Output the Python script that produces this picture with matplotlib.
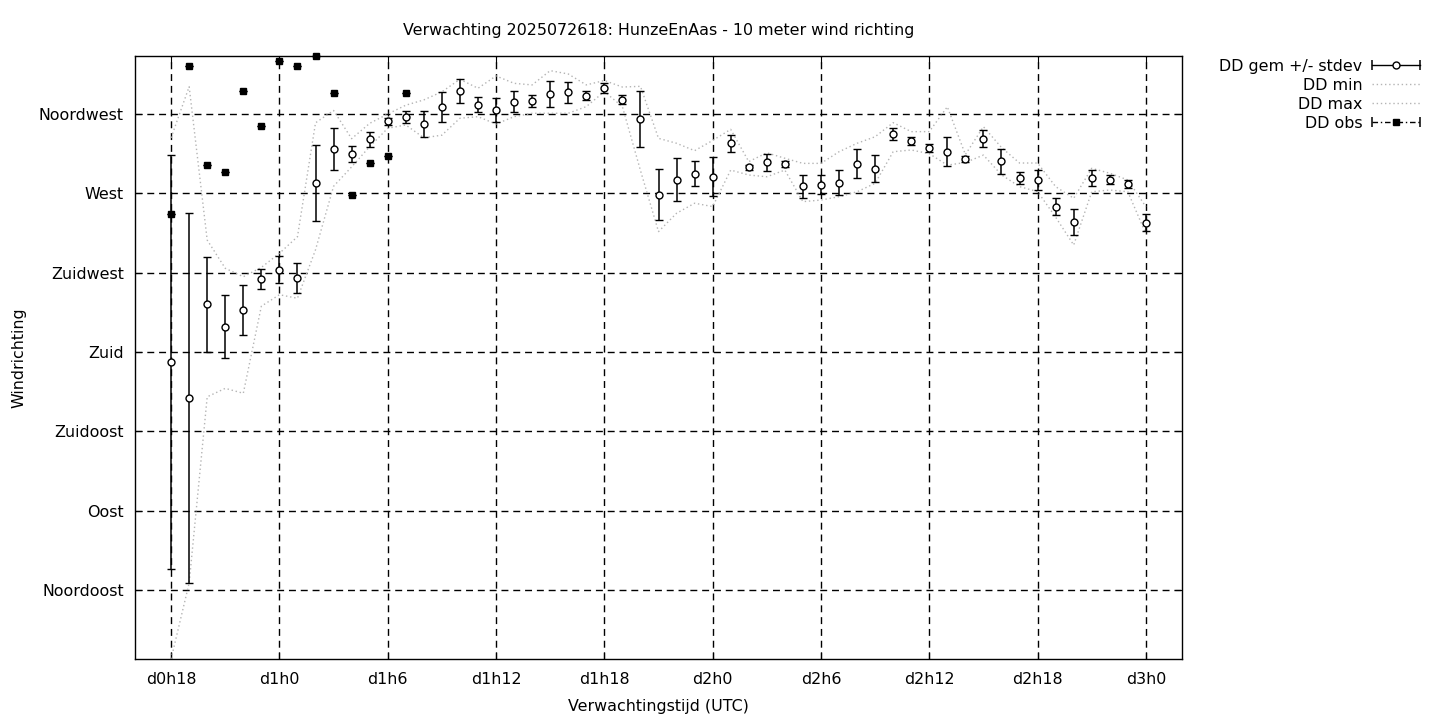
import matplotlib
matplotlib.use("Agg")
import matplotlib.pyplot as plt
from matplotlib.lines import Line2D
from matplotlib.legend_handler import HandlerLine2D, HandlerTuple

# forecast hours since d0h0
hours = list(range(18, 73))

dd_mean = [174.2, 153.8, 207.0, 194.3, 203.8, 221.6, 226.8, 221.8, 275.9, 295.0,
           292.2, 300.6, 310.9, 313.2, 309.4, 318.9, 327.8, 320.3, 317.1, 322.0,
           322.4, 326.4, 327.2, 325.4, 329.8, 323.1, 312.0, 269.3, 277.6, 281.2,
           279.5, 298.4, 284.8, 287.7, 286.6, 273.9, 274.9, 275.9, 286.8, 283.9,
           303.6, 299.7, 295.6, 293.6, 289.7, 300.9, 288.1, 278.7, 277.5, 262.4,
           253.8, 278.5, 277.8, 275.2, 253.4]
dd_std = [117.4, 104.9, 27.1, 17.9, 14.4, 5.6, 7.9, 8.5, 21.7, 11.8,
          4.4, 4.1, 2.1, 3.4, 7.3, 8.6, 6.8, 4.3, 6.8, 6.0,
          3.6, 7.6, 6.2, 2.7, 2.8, 2.6, 15.9, 14.5, 12.2, 7.3,
          11.0, 4.9, 1.5, 4.8, 1.6, 6.7, 5.4, 7.1, 8.2, 7.6,
          3.2, 2.4, 2.2, 8.3, 1.7, 4.8, 7.1, 3.4, 5.8, 4.8,
          7.4, 4.5, 2.5, 2.3, 4.9]
dd_min = [5.9, 49.0, 154.6, 159.4, 156.6, 206.0, 212.5, 210.5, 238.0, 274.0,
          285.0, 296.5, 306.9, 308.8, 301.5, 303.0, 312.6, 313.5, 309.3, 313.5,
          315.4, 315.4, 315.4, 319.2, 327.7, 319.2, 283.0, 248.3, 258.7, 264.4,
          262.5, 283.2, 280.4, 279.4, 283.2, 265.3, 266.2, 268.1, 270.9, 275.7,
          293.6, 294.6, 292.5, 286.0, 287.5, 291.7, 280.5, 273.8, 271.0, 256.5,
          240.7, 270.9, 271.9, 270.9, 247.0]
dd_max = [301.5, 330.5, 243.5, 227.5, 222.7, 228.0, 236.0, 245.4, 310.0, 317.0,
          301.0, 309.7, 315.0, 320.0, 323.0, 327.6, 334.7, 329.6, 336.6, 332.4,
          331.5, 339.6, 337.7, 331.5, 334.0, 330.3, 330.7, 301.2, 298.4, 294.2,
          300.0, 306.3, 288.0, 293.0, 289.9, 287.0, 287.0, 293.6, 298.4, 302.1,
          310.1, 305.0, 305.0, 319.1, 292.0, 307.8, 296.0, 287.2, 287.2, 273.8,
          267.2, 284.2, 281.4, 277.6, 262.4]

obs_hours = list(range(18, 32))
dd_obs = [258.3, 342.1, 285.9, 281.9, 327.9, 308.0, 344.9, 342.1, 347.7, 326.7,
          268.9, 287.0, 291.0, 326.7]

xtick_pos = [18, 24, 30, 36, 42, 48, 54, 60, 66, 72]
xtick_lab = ["d0h18", "d1h0", "d1h6", "d1h12", "d1h18", "d2h0", "d2h6", "d2h12", "d2h18", "d3h0"]
ytick_pos = [45, 90, 135, 180, 225, 270, 315]
ytick_lab = ["Noordoost", "Oost", "Zuidoost", "Zuid", "Zuidwest", "West", "Noordwest"]

plt.rcParams['font.family'] = 'DejaVu Sans'
fs = 11.4

fig = plt.figure(figsize=(14.4, 7.2), dpi=100)
ax = fig.add_axes([135 / 1440, 1 - 659 / 720, (1182 - 135) / 1440, (659 - 56) / 720])

ax.plot(hours, dd_min, color='#b4b4b4', lw=1.0, linestyle=(0, (1, 2)), zorder=2)
ax.plot(hours, dd_max, color='#b4b4b4', lw=1.0, linestyle=(0, (1, 2)), zorder=2)
ax.errorbar(hours, dd_mean, yerr=dd_std, fmt='o', color='black', mfc='white', mec='black',
            ms=5, mew=1.0, elinewidth=1.1, capsize=3.2, capthick=1.1, zorder=3)
ax.errorbar(obs_hours, dd_obs, yerr=0, fmt='s', color='black', ms=5,
            elinewidth=1.0, capsize=3.2, capthick=1.0, zorder=4, clip_on=False)

ax.set_xlim(16, 74)
ax.set_ylim(5.9, 347.9)
ax.set_xticks(xtick_pos)
ax.set_xticklabels(xtick_lab)
ax.set_yticks(ytick_pos)
ax.set_yticklabels(ytick_lab)
ax.tick_params(direction='in', length=5, top=True, right=True, labelsize=fs, pad=8)
ax.tick_params(axis='x', pad=9)
ax.grid(True, color='black', lw=1.0, linestyle=(0, (5, 3.5)))
ax.set_axisbelow(True)
for s in ax.spines.values():
    s.set_linewidth(1.0)

ax.set_xlabel("Verwachtingstijd (UTC)", fontsize=fs, labelpad=9)
ax.set_ylabel("Windrichting", fontsize=fs, labelpad=9)
ax.set_title("Verwachting 2025072618: HunzeEnAas - 10 meter wind richting", fontsize=fs, pad=15)

# legend handles in gnuplot style
gem_line = Line2D([], [], color='black', lw=1.0, marker='o', mfc='white', mec='black', ms=5)
gem_caps = Line2D([], [], color='black', lw=0, marker='|', ms=7, mew=1.1)
min_line = Line2D([], [], color='#b4b4b4', lw=1.0, linestyle=(0, (1, 2)))
max_line = Line2D([], [], color='#b4b4b4', lw=1.0, linestyle=(0, (1, 2)))
obs_line = Line2D([], [], color='black', lw=1.0, linestyle=(0, (4, 2, 1, 2)), marker='s', ms=5)
obs_caps = Line2D([], [], color='black', lw=0, marker='|', ms=7, mew=1.1)

caps_handler = HandlerLine2D(numpoints=2, marker_pad=0)
fig.legend(handles=[(gem_line, gem_caps), min_line, max_line, (obs_line, obs_caps)],
           labels=["DD gem +/- stdev", "DD min", "DD max", "DD obs"],
           handler_map={gem_caps: caps_handler, obs_caps: caps_handler, tuple: HandlerTuple(ndivide=1)},
           loc='upper right', bbox_to_anchor=(1420 / 1440, 1 - 59 / 720),
           bbox_transform=fig.transFigure, frameon=False, markerfirst=False,
           fontsize=fs, handlelength=3.05, handletextpad=0.6, labelspacing=0.25,
           borderpad=0, borderaxespad=0)

fig.savefig("out.png", dpi=100)
